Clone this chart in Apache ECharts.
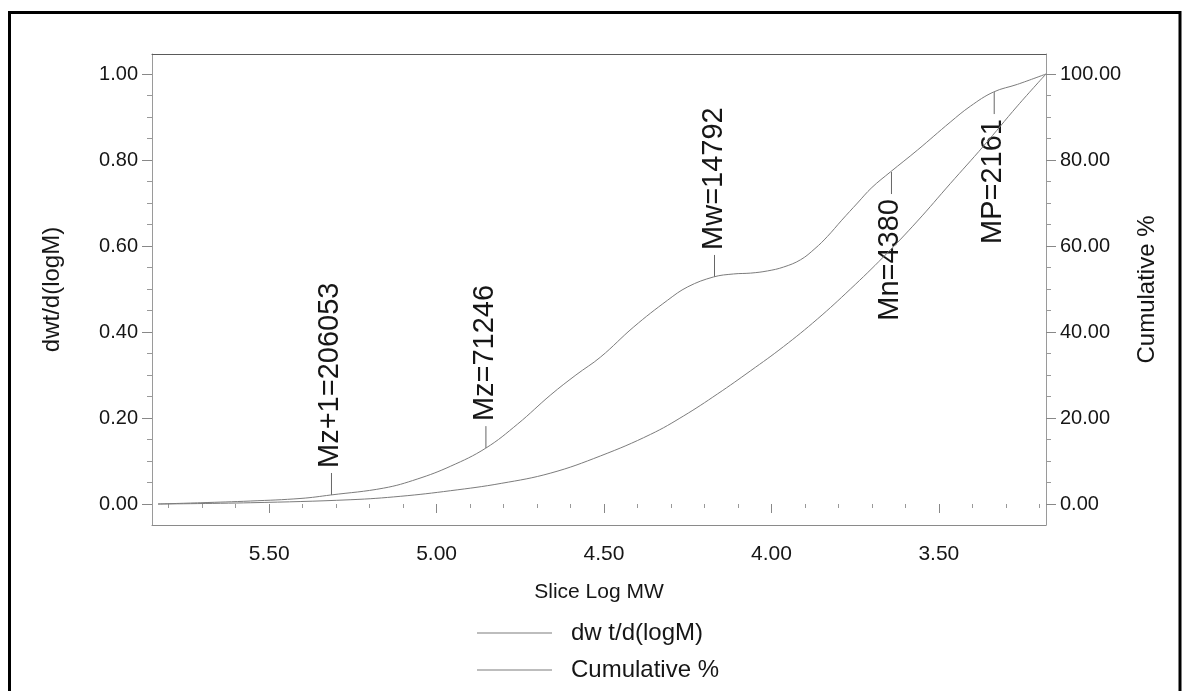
<!DOCTYPE html>
<html>
<head>
<meta charset="utf-8">
<script src="https://cdn.jsdelivr.net/npm/echarts@6.0.0/dist/echarts.min.js"></script>
<style>
  html, body { margin: 0; padding: 0; background: #ffffff; }
  #chart { width: 1186px; height: 691px; }
</style>
</head>
<body>
<div id="chart"></div>
<script>
// ---- data ----
const upperX = [5.832, 5.704, 5.555, 5.405, 5.316, 5.158, 5.058, 4.958, 4.853, 4.758, 4.659, 4.584, 4.510, 4.411, 4.310, 4.250, 4.173, 4.113, 4.062, 4.012, 3.964, 3.913, 3.870, 3.833, 3.790, 3.743, 3.700, 3.645, 3.564, 3.466, 3.406, 3.337, 3.265, 3.180];
const upperY = [0.000, 0.003, 0.007, 0.013, 0.021, 0.037, 0.058, 0.088, 0.130, 0.186, 0.254, 0.300, 0.342, 0.412, 0.474, 0.505, 0.528, 0.535, 0.537, 0.542, 0.551, 0.568, 0.594, 0.622, 0.660, 0.700, 0.736, 0.772, 0.823, 0.888, 0.925, 0.958, 0.976, 1.000];
const lowerX = [5.832, 5.555, 5.256, 5.107, 4.958, 4.807, 4.659, 4.510, 4.361, 4.262, 4.161, 4.062, 3.964, 3.863, 3.764, 3.665, 3.564, 3.466, 3.367, 3.265, 3.180];
const lowerY = [0.0, 0.3, 1.0, 1.8, 3.1, 4.8, 7.2, 11.2, 16.2, 20.5, 25.6, 31.0, 36.6, 43.0, 50.0, 57.5, 65.8, 74.5, 83.2, 92.6, 100.0];

const markerLabels = ['Mz+1=206053', 'Mz=71246', 'Mw=14792', 'Mn=4380', 'MP=2161'];
const markerMW = [206053, 71246, 14792, 4380, 2161];
const markerY = [0.021, 0.130, 0.528, 0.772, 0.958];
const markerDir = ['up', 'up', 'up', 'down', 'down'];

const xTicks = [3.5, 4.0, 4.5, 5.0, 5.5];
const xMinor = [3.2, 3.3, 3.4, 3.6, 3.7, 3.8, 3.9, 4.1, 4.2, 4.3, 4.4, 4.6, 4.7, 4.8, 4.9, 5.1, 5.2, 5.3, 5.4, 5.6, 5.7, 5.8];
const leftTicks = [0, 0.2, 0.4, 0.6, 0.8, 1.0];
const leftMinor = [0.05, 0.1, 0.15, 0.25, 0.3, 0.35, 0.45, 0.5, 0.55, 0.65, 0.7, 0.75, 0.85, 0.9, 0.95];
const rightTicks = [0, 20, 40, 60, 80, 100];
const rightMinor = [5, 10, 15, 25, 30, 35, 45, 50, 55, 65, 70, 75, 85, 90, 95];

const seriesNames = ['dw t/d(logM)', 'Cumulative %'];

// ---- chart ----
const FONT = '"Liberation Sans", Arial, sans-serif';
const TXT = '#161616';
const LINE = '#7c7c7c';
const X_MIN = 3.18, X_MAX = 5.85;
const YL_MIN = -0.0488, YL_MAX = 1.0465;
const YR_MIN = -4.88, YR_MAX = 104.65;

const chart = echarts.init(document.getElementById('chart'), null, { renderer: 'canvas' });

function xAxisBase(extra) {
  return Object.assign({
    type: 'value', gridIndex: 0, min: X_MIN, max: X_MAX, inverse: true,
    splitLine: { show: false }, axisLine: { show: false }, axisTick: { show: false },
    axisLabel: { show: false }
  }, extra);
}
function yAxisBase(extra) {
  return Object.assign({
    type: 'value', gridIndex: 0,
    splitLine: { show: false }, axisLine: { show: false }, axisTick: { show: false },
    axisLabel: { show: false }
  }, extra);
}
function legendItem(name, top) {
  return {
    data: [name], left: 477, top: top, orient: 'vertical', padding: 0,
    icon: 'rect', itemWidth: 75, itemHeight: 1,
    itemStyle: { color: LINE },
    textStyle: { fontSize: 24, color: TXT, fontFamily: FONT, padding: [0, 0, 0, 14] },
    selectedMode: false
  };
}

const option = {
  animation: false,
  backgroundColor: '#ffffff',
  textStyle: { fontFamily: FONT },
  grid: [{ left: 152, right: 140, top: 54, bottom: 166, containLabel: false }],
  graphic: [{
    type: 'rect', silent: true,
    shape: { x: 9.5, y: 12.5, width: 1170.5, height: 700 },
    style: { fill: 'none', stroke: '#000', lineWidth: 3 }
  }],
  legend: [legendItem(seriesNames[0], 621), legendItem(seriesNames[1], 658)],
  xAxis: [
    xAxisBase({
      position: 'bottom',
      axisLine: { show: true, onZero: false, lineStyle: { color: '#8a8a8a', width: 1 } },
      axisLabel: { show: true, customValues: xTicks, formatter: v => v.toFixed(2), margin: 19, fontSize: 21, color: TXT, fontFamily: FONT },
      name: 'Slice Log MW', nameLocation: 'middle', nameGap: 57,
      nameTextStyle: { fontSize: 21, color: TXT, fontFamily: FONT }
    }),
    xAxisBase({ position: 'bottom', offset: 5, axisTick: { show: true, customValues: xMinor, length: 4, lineStyle: { color: '#999' } } }),
    xAxisBase({ position: 'bottom', offset: 6, axisTick: { show: true, customValues: xTicks, length: 9, lineStyle: { color: '#888' } } }),
    xAxisBase({ position: 'top', axisLine: { show: true, onZero: false, lineStyle: { color: '#5a5a5a', width: 1 } } })
  ],
  yAxis: [
    yAxisBase({
      position: 'left', min: YL_MIN, max: YL_MAX,
      axisLine: { show: true, onZero: false, lineStyle: { color: '#9a9a9a', width: 1 } },
      axisTick: { show: true, customValues: leftTicks, length: 10, lineStyle: { color: '#888' } },
      axisLabel: { show: true, customValues: leftTicks, formatter: v => v.toFixed(2), margin: 14, fontSize: 20, color: TXT, fontFamily: FONT },
      name: 'dwt/d(logM)', nameLocation: 'middle', nameRotate: 90, nameGap: 88,
      nameTextStyle: { fontSize: 24, color: TXT, fontFamily: FONT }
    }),
    yAxisBase({ position: 'left', min: YL_MIN, max: YL_MAX, axisTick: { show: true, customValues: leftMinor, length: 5, lineStyle: { color: '#999' } } }),
    yAxisBase({
      position: 'right', min: YR_MIN, max: YR_MAX,
      axisLine: { show: true, onZero: false, lineStyle: { color: '#9a9a9a', width: 1 } },
      axisTick: { show: true, customValues: rightTicks, length: 10, lineStyle: { color: '#888' } },
      axisLabel: { show: true, customValues: rightTicks, formatter: v => v.toFixed(2), margin: 14, fontSize: 20, color: TXT, fontFamily: FONT },
      name: 'Cumulative %', nameLocation: 'middle', nameRotate: 90, nameGap: 89,
      nameTextStyle: { fontSize: 24, color: TXT, fontFamily: FONT }
    }),
    yAxisBase({ position: 'right', min: YR_MIN, max: YR_MAX, axisTick: { show: true, customValues: rightMinor, length: 5, lineStyle: { color: '#999' } } })
  ],
  series: [
    {
      name: seriesNames[0], type: 'line', xAxisIndex: 0, yAxisIndex: 0,
      data: upperX.map((x, i) => [x, upperY[i]]),
      smooth: 0.4, symbol: 'none', showSymbol: false,
      lineStyle: { color: LINE, width: 1 }, itemStyle: { color: LINE }
    },
    {
      name: seriesNames[1], type: 'line', xAxisIndex: 0, yAxisIndex: 2,
      data: lowerX.map((x, i) => [x, lowerY[i]]),
      smooth: 0.4, symbol: 'none', showSymbol: false,
      lineStyle: { color: LINE, width: 1 }, itemStyle: { color: LINE }
    },
    {
      name: 'markers', type: 'custom', xAxisIndex: 0, yAxisIndex: 0, clip: false,
      data: markerMW.map((m, i) => [Math.log10(m), markerY[i]]),
      encode: { x: 0, y: 1 },
      renderItem: function (params, api) {
        const i = params.dataIndex;
        const p = api.coord([api.value(0), api.value(1)]);
        const dir = markerDir[i] === 'up' ? -1 : 1;
        const tickLen = 22, gap = 5;
        return {
          type: 'group',
          children: [
            { type: 'line', shape: { x1: p[0], y1: p[1], x2: p[0], y2: p[1] + dir * tickLen },
              style: { stroke: '#666', lineWidth: 1 } },
            { type: 'text', x: p[0] - 1, y: p[1] + dir * (tickLen + gap), rotation: Math.PI / 2,
              style: { text: markerLabels[i], font: '29px ' + FONT, fill: TXT,
                       align: dir < 0 ? 'left' : 'right', verticalAlign: 'middle' } }
          ]
        };
      }
    }
  ]
};
chart.setOption(option);
</script>
</body>
</html>
